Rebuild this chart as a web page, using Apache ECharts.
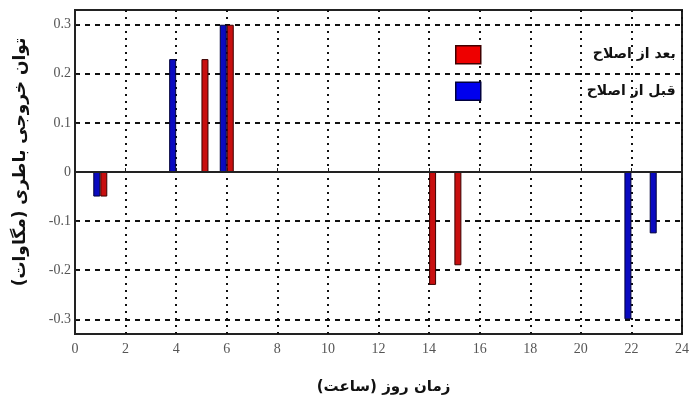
<!DOCTYPE html>
<html>
<head>
<meta charset="utf-8">
<script src="https://cdn.jsdelivr.net/npm/echarts@6/dist/echarts.min.js"></script>
<style>html,body{margin:0;padding:0;background:#fff;}#c{width:692px;height:403px;}</style>
</head>
<body>
<div id="c"></div>
<script>
var seriesNames = ['بعد از اصلاح', 'قبل از اصلاح'];
var afterHours = [1, 5, 6, 14, 15];
var afterValues = [-0.05, 0.23, 0.30, -0.23, -0.19];
var beforeHours = [1, 4, 6, 22, 23];
var beforeValues = [-0.05, 0.23, 0.30, -0.30, -0.125];
var yTicks = [-0.3, -0.2, -0.1, 0, 0.1, 0.2, 0.3];
var xTitle = 'زمان روز (ساعت)';
var yTitle = 'توان خروجی باطری (مگاوات)';

function pairs(h, v) { return h.map(function (x, i) { return [x, v[i]]; }); }

var chart = echarts.init(document.getElementById('c'), null, {renderer: 'canvas'});
var persianFont = 'DejaVu Sans';
chart.setOption({
  animation: false,
  backgroundColor: '#fff',
  grid: {left: 75, right: 5, top: 10, bottom: 69, show: true, borderColor: '#222', borderWidth: 2, backgroundColor: 'transparent'},
  legend: {
    orient: 'vertical', left: 455, top: 45, padding: 0, itemWidth: 25, itemHeight: 18, itemGap: 17,
    icon: 'rect',
    data: [
      {name: seriesNames[0], itemStyle: {color: '#ee0000', borderColor: '#400000', borderWidth: 1.5}},
      {name: seriesNames[1], itemStyle: {color: '#0000ee', borderColor: '#000040', borderWidth: 1.5}}
    ],
    formatter: '{a|{name}}',
    textStyle: {rich: {a: {width: 190, align: 'right', fontFamily: persianFont, fontWeight: 'bold', fontSize: 14, color: '#111', padding: [0, 4, 0, 0]}}},
    selectedMode: false
  },
  xAxis: {
    type: 'value', min: 0, max: 24, interval: 2,
    name: xTitle, nameLocation: 'middle', nameGap: 46,
    nameTextStyle: {fontFamily: persianFont, fontWeight: 'bold', fontSize: 15, color: '#111', padding: [0, 0, 0, 10]},
    axisLine: {show: true, lineStyle: {color: '#222', width: 2}},
    axisTick: {show: true, inside: true, length: 4, lineStyle: {color: '#222'}},
    axisLabel: {fontFamily: 'Liberation Serif', fontSize: 14, color: '#555', margin: 8},
    splitLine: {show: true, lineStyle: {color: '#111', width: 2, type: [2, 5]}}
  },
  yAxis: {
    type: 'value', min: -0.33, max: 0.33,
    name: yTitle, nameLocation: 'middle', nameGap: 46, nameRotate: 90,
    nameTextStyle: {fontFamily: persianFont, fontWeight: 'bold', fontSize: 17, color: '#111', padding: [0, 0, 0, 20]},
    axisLine: {show: true, lineStyle: {color: '#222', width: 2}},
    axisTick: {show: true, inside: true, length: 4, customValues: yTicks, lineStyle: {color: '#222'}},
    axisLabel: {fontFamily: 'Liberation Serif', fontSize: 14, color: '#555', margin: 4, customValues: yTicks},
    splitLine: {show: true, lineStyle: {color: '#111', width: 2, type: [5, 5]}}
  },
  series: [
    {
      name: seriesNames[1], type: 'bar', barWidth: 7, barGap: '0%',
      data: pairs(beforeHours, beforeValues),
      itemStyle: {color: '#0a0ac0', borderColor: '#00003a', borderWidth: 1},
      markLine: {silent: true, symbol: 'none', label: {show: false}, lineStyle: {color: '#222', width: 2, type: 'solid'}, data: [{yAxis: 0}]},
      z: 3
    },
    {
      name: seriesNames[0], type: 'bar', barWidth: 7, barGap: '0%',
      data: pairs(afterHours, afterValues),
      itemStyle: {color: '#c80f0f', borderColor: '#3a0000', borderWidth: 1},
      z: 3
    }
  ]
});
</script>
</body>
</html>
